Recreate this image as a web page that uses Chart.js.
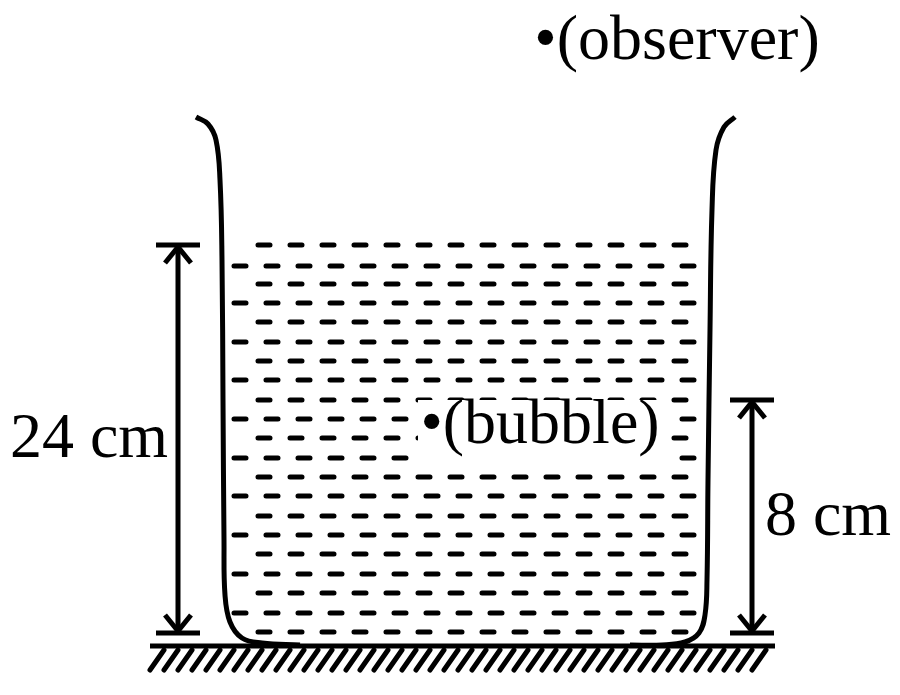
<!DOCTYPE html>
<html>
<head>
<meta charset="utf-8">
<script src="https://cdn.jsdelivr.net/npm/chart.js@4/dist/chart.umd.min.js"></script>
<style>
  html, body { margin: 0; padding: 0; background: #fff; }
  #wrap { width: 900px; height: 695px; }
</style>
</head>
<body>
<div id="wrap"><canvas id="myChart"></canvas></div>
<script>
// geometry of the diagram, in picture units (x right, y down)
const leftWall = [[196,117],[208,124],[216,140],[220,180],[222,260],[223,400],[224,540],[225,595],[230,622],[242,638],[262,643],[300,645]];
const rightWall = [[735,117],[724,127],[716,150],[712,210],[710,330],[708,480],[707,580],[705,615],[699,633],[685,642],[662,645],[630,645]];
const waterRows = [245,266,284,303,322,342,361,380,400,419,438,458,477,496,516,535,554,574,593,613,632];
const groundLine = [[150,646],[775,646]];
const hatchStarts = [150,164,178,192,206,220,234,248,262,276,290,304,318,332,346,360,374,388,402,416,430,444,458,472,486,500,514,528,542,556,570,584,598,612,626,640,654,668,682,696,710,724,738,752];
const leftArrow = { x: 178, top: 245, bottom: 633 };
const rightArrow = { x: 752, top: 400, bottom: 633 };
const labels = [
  { text: "24 cm", x: 89, y: 440 },
  { text: "8 cm", x: 828, y: 518 },
  { text: "\u2022(observer)", x: 677, y: 42 },
  { text: "\u2022(bubble)", x: 540, y: 426, eraseBox: [418, 400, 252, 62] }
];

const pts = arr => arr.map(p => ({ x: p[0], y: p[1] }));
const datasets = [];
const line = (data, extra) => datasets.push(Object.assign({
  data, showLine: true, pointRadius: 0, borderColor: "#000", borderWidth: 5,
  fill: false, spanGaps: false
}, extra || {}));

line(pts(leftWall), { tension: 0.4 });
line(pts(rightWall), { tension: 0.4 });
waterRows.forEach((y, i) => {
  line([{ x: i % 2 ? 234 : 242, y }, { x: i % 2 ? 706 : 700, y }],
       { borderWidth: 5, borderDash: [12, 20], borderDashOffset: i % 2 ? 0 : 16, borderCapStyle: "round" });
});
line(pts(groundLine), { borderWidth: 5 });
const hatch = [];
hatchStarts.forEach(x => { hatch.push({ x, y: 670 }, { x: x + 14, y: 650 }, { x: NaN, y: NaN }); });
line(hatch, { borderWidth: 5, borderCapStyle: "round" });
[leftArrow, rightArrow].forEach(a => {
  line([{ x: a.x, y: a.top }, { x: a.x, y: a.bottom }]);
  line([{ x: a.x - 22, y: a.top }, { x: a.x + 22, y: a.top }]);
  line([{ x: a.x - 22, y: a.bottom }, { x: a.x + 22, y: a.bottom }]);
  line([{ x: a.x - 13, y: a.top + 18 }, { x: a.x, y: a.top + 2 }, { x: a.x + 13, y: a.top + 18 }]);
  line([{ x: a.x - 13, y: a.bottom - 18 }, { x: a.x, y: a.bottom - 2 }, { x: a.x + 13, y: a.bottom - 18 }]);
});

const textPlugin = {
  id: "texts",
  afterDatasetsDraw(chart) {
    const ctx = chart.ctx, sx = chart.scales.x, sy = chart.scales.y;
    ctx.save();
    labels.forEach(l => {
      if (l.eraseBox) {
        const b = l.eraseBox;
        const x0 = sx.getPixelForValue(b[0]), y0 = sy.getPixelForValue(b[1]);
        ctx.fillStyle = "#fff";
        ctx.fillRect(x0, y0, sx.getPixelForValue(b[0] + b[2]) - x0, sy.getPixelForValue(b[1] + b[3]) - y0);
      }
      ctx.fillStyle = "#000";
      ctx.font = "64px 'Liberation Serif', 'Times New Roman', serif";
      ctx.textAlign = "center";
      ctx.textBaseline = "middle";
      ctx.fillText(l.text, sx.getPixelForValue(l.x), sy.getPixelForValue(l.y));
    });
    ctx.restore();
  }
};

new Chart("myChart", {
  type: "scatter",
  data: { datasets },
  options: {
    responsive: true, maintainAspectRatio: false, animation: false,
    layout: { padding: 0 },
    plugins: { legend: { display: false }, tooltip: { enabled: false } },
    scales: {
      x: { type: "linear", min: 0, max: 900, display: false },
      y: { type: "linear", min: 0, max: 695, reverse: true, display: false }
    }
  },
  plugins: [textPlugin]
});
</script>
</body>
</html>
